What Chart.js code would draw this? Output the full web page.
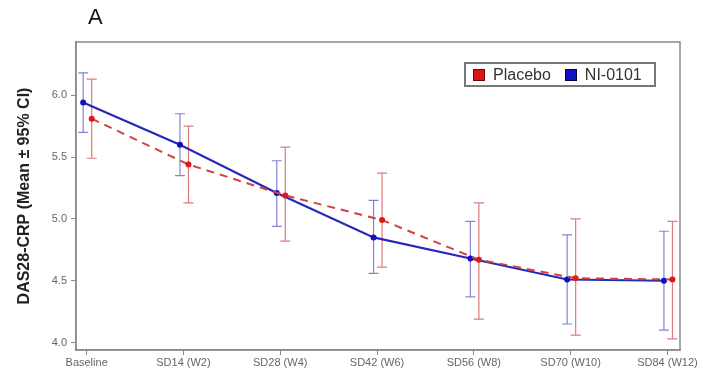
<!DOCTYPE html>
<html>
<head>
<meta charset="utf-8">
<script src="https://cdn.jsdelivr.net/npm/chart.js@4"></script>
<style>
  html, body { margin: 0; padding: 0; background: #fff; }
  #wrap { position: relative; width: 704px; height: 376px; }
  canvas { position: absolute; left: 0; top: 0; }
  #panel { position: absolute; left: 88px; top: 4px; font: 22px "Liberation Sans", Arial, sans-serif; color: #111; }
  #legend { position: absolute; left: 464px; top: 62px; width: 192px; height: 25px; border: 2px solid #777;
    box-sizing: border-box; font: 16px "Liberation Sans", Arial, sans-serif; color: #333;
    display: flex; align-items: center; padding-left: 7px; }
  .sw { display: inline-block; width: 12px; height: 12px; margin-right: 8px; box-sizing: border-box; }
</style>
</head>
<body>
<div id="wrap">
  <canvas id="c" width="704" height="376"></canvas>
  <div id="panel">A</div>
  <div id="legend">
    <span class="sw" style="background:#d81818;border:1px solid #700;"></span><span style="margin-right:14px">Placebo</span>
    <span class="sw" style="background:#1010c0;border:1px solid #004;"></span><span>NI-0101</span>
  </div>
</div>
<script>
const categories = ["Baseline", "SD14 (W2)", "SD28 (W4)", "SD42 (W6)", "SD56 (W8)", "SD70 (W10)", "SD84 (W12)"];
const placeboMean  = [5.81, 5.44, 5.19, 4.99, 4.67, 4.52, 4.51];
const placeboLower = [5.49, 5.13, 4.82, 4.61, 4.19, 4.06, 4.03];
const placeboUpper = [6.13, 5.75, 5.58, 5.37, 5.13, 5.00, 4.98];
const niMean  = [5.94, 5.60, 5.21, 4.85, 4.68, 4.51, 4.50];
const niLower = [5.70, 5.35, 4.94, 4.56, 4.37, 4.15, 4.10];
const niUpper = [6.18, 5.85, 5.47, 5.15, 4.98, 4.87, 4.90];
const yTicks = [4.0, 4.5, 5.0, 5.5, 6.0];

const niShift = -0.036, plShift = 0.052;

const niPts = niMean.map((v, i) => ({ x: i + niShift, y: v, lo: niLower[i], hi: niUpper[i] }));
const plPts = placeboMean.map((v, i) => ({ x: i + plShift, y: v, lo: placeboLower[i], hi: placeboUpper[i] }));

const errorBars = {
  id: 'errorBars',
  beforeDatasetsDraw(chart) {
    const ctx = chart.ctx, xs = chart.scales.x, ys = chart.scales.y;
    chart.data.datasets.forEach(ds => {
      ctx.save();
      ctx.strokeStyle = ds.errColor;
      ctx.lineWidth = 1.2;
      ds.data.forEach(p => {
        const x = xs.getPixelForValue(p.x);
        const y1 = ys.getPixelForValue(p.lo), y2 = ys.getPixelForValue(p.hi);
        ctx.beginPath();
        ctx.moveTo(x, y1); ctx.lineTo(x, y2);
        ctx.moveTo(x - 5, y1); ctx.lineTo(x + 5, y1);
        ctx.moveTo(x - 5, y2); ctx.lineTo(x + 5, y2);
        ctx.stroke();
      });
      ctx.restore();
    });
  }
};

const frame = {
  id: 'frame',
  afterDraw(chart) {
    const a = chart.chartArea, ctx = chart.ctx;
    ctx.save();
    ctx.strokeStyle = '#8a8a8a';
    ctx.lineWidth = 1.5;
    ctx.strokeRect(a.left, a.top, a.right - a.left, a.bottom - a.top);
    ctx.restore();
  }
};

new Chart(document.getElementById('c'), {
  type: 'scatter',
  data: {
    datasets: [
      { label: 'Placebo', data: plPts, showLine: true, borderColor: '#d24040', borderWidth: 2,
        borderDash: [8, 6], backgroundColor: '#e01818', pointRadius: 3, pointBorderWidth: 0,
        errColor: 'rgba(215,100,100,0.85)' },
      { label: 'NI-0101', data: niPts, showLine: true, borderColor: '#2828b8', borderWidth: 2.2,
        backgroundColor: '#1010c0', pointRadius: 3, pointBorderWidth: 0,
        errColor: 'rgba(100,100,200,0.8)' }
    ]
  },
  options: {
    responsive: false,
    animation: false,
    layout: { padding: { left: 0, right: 24, top: 42, bottom: 0 } },
    plugins: { legend: { display: false }, tooltip: { enabled: false } },
    scales: {
      x: {
        type: 'linear', min: -0.11, max: 6.13,
        afterBuildTicks: s => { s.ticks = categories.map((c, i) => ({ value: i })); },
        afterFit: s => { s.height = 26; },
        ticks: { callback: v => categories[v], font: { size: 11, family: 'Liberation Sans' }, color: '#666', padding: 1, maxRotation: 0, autoSkip: false },
        grid: { drawOnChartArea: false, tickLength: 5, color: '#888' },
        border: { color: '#8a8a8a', width: 1.5 }
      },
      y: {
        min: 3.94, max: 6.43,
        afterBuildTicks: s => { s.ticks = yTicks.map(v => ({ value: v })); },
        afterFit: s => { s.width = 76; },
        ticks: { callback: v => v.toFixed(1), font: { size: 11, family: 'Liberation Sans' }, color: '#666', padding: 4 },
        grid: { drawOnChartArea: false, tickLength: 5, color: '#888' },
        border: { color: '#8a8a8a', width: 1.5 },
        title: { display: true, text: 'DAS28-CRP (Mean ± 95% CI)', font: { size: 16, weight: 'bold', family: 'Liberation Sans' }, color: '#222', padding: { top: 15, bottom: 0 } }
      }
    }
  },
  plugins: [errorBars, frame]
});
</script>
</body>
</html>
